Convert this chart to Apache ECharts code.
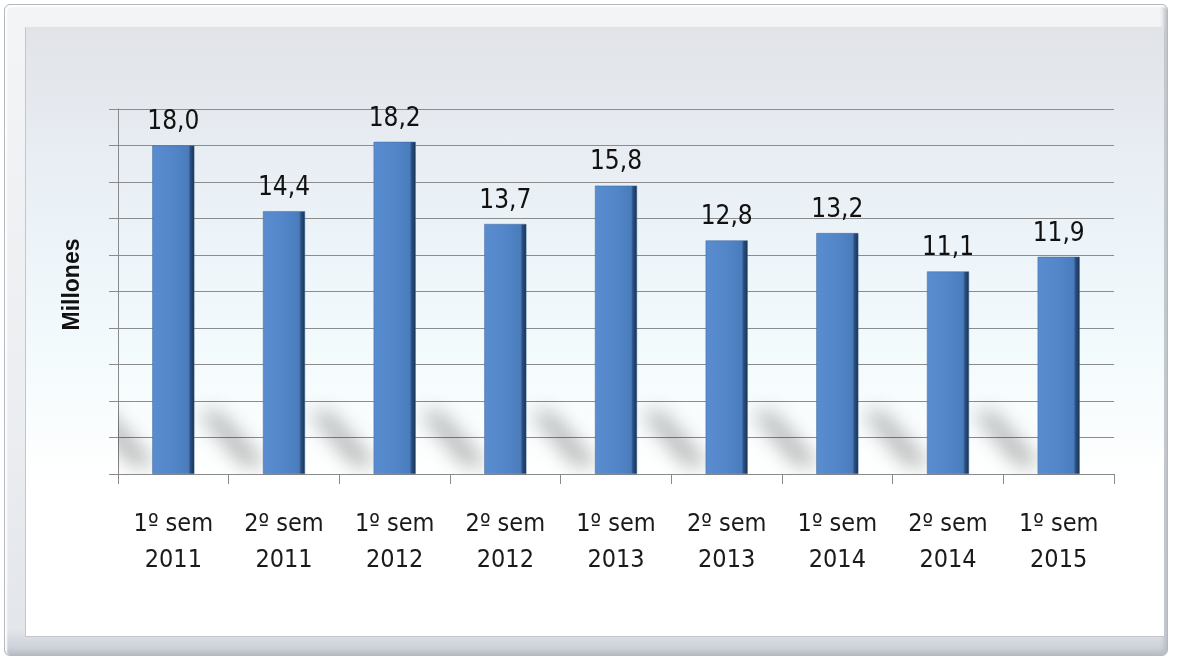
<!DOCTYPE html>
<html>
<head>
<meta charset="utf-8">
<script src="https://cdn.jsdelivr.net/npm/echarts@6/dist/echarts.min.js"></script>
<style>
  html, body { margin:0; padding:0; width:1177px; height:660px; background:#ffffff; overflow:hidden; }
  #outer { position:absolute; left:4px; top:4px; width:1164px; height:652px; box-sizing:border-box;
    border:1px solid #b4b8bf; border-radius:6px;
    background:linear-gradient(#f3f4f6, #eceef1 60%, #e3e6eb 96%, #c5c9d1 100%);
    box-shadow: inset 2px 2px 2px #ffffff, inset -3px -3px 4px #b9bdc5; }
  #inner { position:absolute; left:25px; top:27px; width:1140px; height:610px; box-sizing:border-box;
    border:1px solid #c3c6cb; border-top-color:#e0e2e6;
    background:linear-gradient(#e1e3e7 0%, #e7ecf2 18%, #edf5fa 38%, #f4fbfd 55%, #ffffff 75%); }
  #chart { position:absolute; left:0; top:0; width:1177px; height:660px; }
</style>
</head>
<body>
<div id="outer"></div>
<div id="inner"></div>
<div id="chart"></div>
<script>
const categories = ['1º sem\n2011','2º sem\n2011','1º sem\n2012','2º sem\n2012','1º sem\n2013','2º sem\n2013','1º sem\n2014','2º sem\n2014','1º sem\n2015'];
const values = [18.0, 14.4, 18.2, 13.7, 15.8, 12.8, 13.2, 11.1, 11.9];
const axisName = 'Millones';
const yMin = 0, yMax = 20, yInterval = 2;

const narrow = '"Liberation Sans Narrow", "DejaVu Sans Condensed", "Liberation Sans", sans-serif';
const OFF = 3000;

const chart = echarts.init(document.getElementById('chart'), null, {renderer:'canvas'});
chart.setOption({
  backgroundColor: 'transparent',
  animation: false,
  grid: { left: 118, right: 63, top: 109, bottom: 186, containLabel: false },
  xAxis: {
    type: 'category',
    data: categories,
    boundaryGap: true,
    axisLine: { show: true, lineStyle: { color: '#8a8a8a', width: 1 } },
    axisTick: { show: true, interval: 0, length: 10, lineStyle: { color: '#8a8a8a' } },
    axisLabel: { interval: 0, margin: 32, fontFamily: narrow, fontSize: 25, lineHeight: 36, color: '#1a1a1a' },
    splitLine: { show: false }
  },
  yAxis: {
    type: 'value',
    min: yMin, max: yMax, interval: yInterval,
    name: axisName,
    nameLocation: 'middle',
    nameGap: 34,
    nameRotate: 90,
    nameTextStyle: { fontFamily: '"Liberation Sans", Arial, sans-serif', fontWeight: 'bold', fontSize: 23, color: '#111', padding: [0, 0, 0, 14] },
    axisLine: { show: true, lineStyle: { color: '#8a8a8a', width: 1 } },
    axisTick: { show: true, length: 9, lineStyle: { color: '#8a8a8a' } },
    axisLabel: { show: false },
    splitLine: { show: true, lineStyle: { color: '#8c8c8c', width: 1 } }
  },
  series: [
    {
      type: 'custom',
      z: 1,
      silent: true,
      clip: true,
      data: values.map((v, i) => [i, v]),
      renderItem: function (params, api) {
        const base = api.coord([api.value(0), 0]);
        const w = api.size([1, 0])[0] * 0.38;
        const xL = base[0] - w / 2;
        const yb = base[1];
        const pts = [[xL + 4, yb - 8], [xL - 20, yb - 8], [xL - 64, yb - 62], [xL - 44, yb - 62]];
        return {
          type: 'polygon',
          shape: { points: pts.map(p => [p[0] + OFF, p[1]]) },
          style: { fill: '#000', shadowBlur: 20, shadowOffsetX: -OFF, shadowOffsetY: 0, shadowColor: 'rgba(0,0,0,0.3)' }
        };
      }
    },
    {
      type: 'bar',
      z: 3,
      data: values,
      barWidth: '38%',
      itemStyle: {
        color: new echarts.graphic.LinearGradient(0, 0, 1, 0, [
          { offset: 0, color: '#5a8dd0' },
          { offset: 0.5, color: '#5286c9' },
          { offset: 0.86, color: '#4a7cbc' },
          { offset: 0.9, color: '#2c5285' },
          { offset: 1, color: '#17304f' }
        ]),
        borderColor: '#3f6799',
        borderWidth: 0.5
      },
      label: {
        show: true,
        position: 'top',
        distance: 10,
        fontFamily: narrow,
        fontSize: 26,
        color: '#111',
        formatter: p => p.value.toFixed(1).replace('.', ',')
      }
    }
  ]
});
</script>
</body>
</html>
